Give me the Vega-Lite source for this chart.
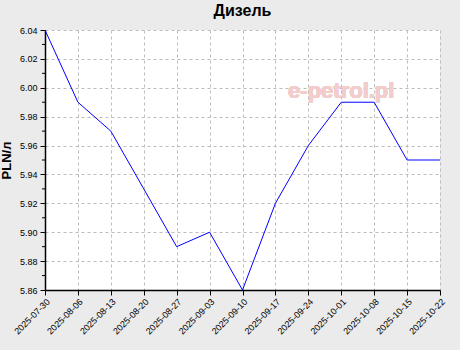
{
  "$schema": "https://vega.github.io/schema/vega-lite/v6.json",
  "width": 395,
  "height": 260,
  "autosize": {"type": "none"},
  "padding": {"left": 45, "top": 30, "right": 20, "bottom": 60},
  "background": "#ebebeb",
  "title": {"text": "Дизель", "font": "Liberation Sans", "fontSize": 16, "fontWeight": "bold", "color": "#000000", "offset": 7},
  "config": {
    "view": {"stroke": null, "fill": "#ffffff"},
    "axis": {"labelFont": "Liberation Sans", "titleFont": "Liberation Sans", "labelColor": "#000000", "domainColor": "#000000", "tickColor": "#000000", "gridColor": "#bdbdbd", "gridDash": [3, 3], "labelFontSize": 9}
  },
  "data": {"values": [
    {"date": "2025-07-30", "price": 6.04},
    {"date": "2025-08-06", "price": 5.99},
    {"date": "2025-08-13", "price": 5.97},
    {"date": "2025-08-20", "price": 5.93},
    {"date": "2025-08-27", "price": 5.89},
    {"date": "2025-09-03", "price": 5.90},
    {"date": "2025-09-10", "price": 5.86},
    {"date": "2025-09-17", "price": 5.92},
    {"date": "2025-09-24", "price": 5.96},
    {"date": "2025-10-01", "price": 5.99},
    {"date": "2025-10-08", "price": 5.99},
    {"date": "2025-10-15", "price": 5.95},
    {"date": "2025-10-22", "price": 5.95}
  ]},
  "encoding": {
    "x": {"field": "date", "type": "ordinal", "scale": {"type": "point", "padding": 0},
      "axis": {"title": null, "labelAngle": -45, "labelAlign": "right", "labelBaseline": "top", "labelPadding": 2, "tickSize": 5, "grid": true, "domainWidth": 1.5}},
    "y": {"field": "price", "type": "quantitative", "scale": {"domain": [5.86, 6.04], "nice": false, "zero": false},
      "axis": {"title": "PLN/л", "titleFontSize": 13, "titleFontWeight": "bold", "titlePadding": 6, "values": [5.86, 5.88, 5.90, 5.92, 5.94, 5.96, 5.98, 6.00, 6.02, 6.04], "format": ".2f", "tickSize": 5, "grid": true, "domainWidth": 1.5, "labelPadding": 3}}
  },
  "layer": [
    {"mark": {"type": "text", "text": "e-petrol.pl", "font": "Liberation Sans", "fontSize": 22, "fontWeight": "bold", "fill": "#f3cccc", "align": "center", "baseline": "middle"},
      "encoding": {"x": {"datum": "2025-10-01"}, "y": {"datum": 5.998}}},
    {"mark": {"type": "line", "color": "#0000ff", "strokeWidth": 1}},
    {"mark": {"type": "rule", "color": "#000000"},
      "data": {"values": [{"m": 5.87}, {"m": 5.89}, {"m": 5.91}, {"m": 5.93}, {"m": 5.95}, {"m": 5.97}, {"m": 5.99}, {"m": 6.01}, {"m": 6.03}]},
      "encoding": {"y": {"field": "m", "type": "quantitative"}, "x": {"value": -3}, "x2": {"value": 0}}}
  ]
}
